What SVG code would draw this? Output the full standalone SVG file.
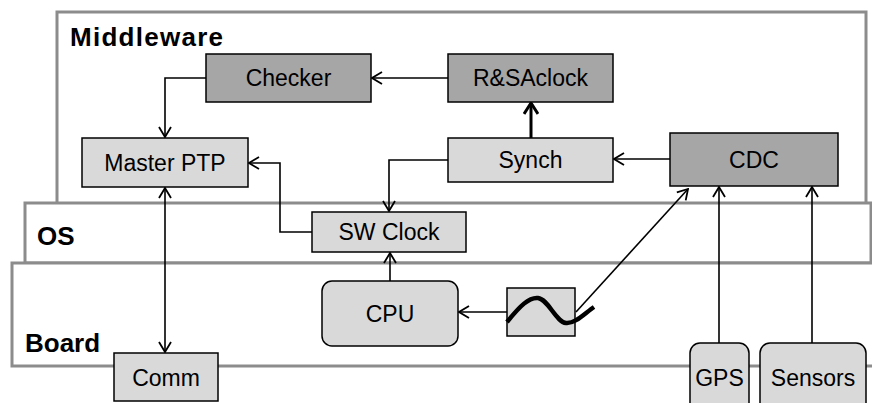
<svg xmlns="http://www.w3.org/2000/svg" width="872" height="403" viewBox="0 0 872 403">
<defs>
<style>
.frame{fill:#fff;stroke:#8c8c8c;stroke-width:3}
.light{fill:#d9d9d9;stroke:#000;stroke-width:1.5}
.dark{fill:#a6a6a6;stroke:#000;stroke-width:1.5}
.t{font-family:"Liberation Sans",Arial,sans-serif;font-size:23px;fill:#000;text-anchor:middle}
.lbl{font-family:"Liberation Sans",Arial,sans-serif;font-size:26px;font-weight:bold;fill:#000}
.c{fill:none;stroke:#000;stroke-width:1.6}
</style>
<marker id="ah" markerWidth="12" markerHeight="14" refX="11" refY="7" orient="auto-start-reverse" markerUnits="userSpaceOnUse">
<path d="M1,1 L11,7 L1,13" fill="none" stroke="#000" stroke-width="1.8"/>
</marker>
<marker id="ahb" markerWidth="14" markerHeight="16" refX="12" refY="8" orient="auto" markerUnits="userSpaceOnUse">
<path d="M1,1 L12,8 L1,15" fill="none" stroke="#000" stroke-width="3"/>
</marker>
</defs>
<g id="layers">
<rect class="frame" x="57" y="12" width="809" height="200"/>
<rect class="frame" x="25" y="203" width="846" height="60"/>
<rect class="frame" x="12" y="263" width="875" height="103"/>
<text class="lbl" x="70" y="46" textLength="153" lengthAdjust="spacing">Middleware</text>
<text class="lbl" x="37" y="245">OS</text>
<text class="lbl" x="25" y="352">Board</text>
</g>
<g id="connectors">
<path class="c" d="M448,78 H372" marker-end="url(#ah)"/>
<path class="c" d="M206,78 H165 V137" marker-end="url(#ah)"/>
<path class="c" d="M448,160 H389 V211" marker-end="url(#ah)"/>
<path class="c" d="M670,159 H614" marker-end="url(#ah)"/>
<path class="c" d="M531,138 V103" style="stroke-width:3" marker-end="url(#ahb)"/>
<path class="c" d="M312,232 H280 V163 H249" marker-end="url(#ah)"/>
<path class="c" d="M165,188 V352" marker-start="url(#ah)" marker-end="url(#ah)"/>
<path class="c" d="M390,281 V253" marker-end="url(#ah)"/>
<path class="c" d="M507,312 H459" marker-end="url(#ah)"/>
<path class="c" d="M576,312 L688,189" marker-end="url(#ah)"/>
<path class="c" d="M719,343 V187" marker-end="url(#ah)"/>
<path class="c" d="M812,343 V187" marker-end="url(#ah)"/>
</g>
<g id="checker"><rect class="dark" x="206" y="54" width="165" height="48"/><text class="t" x="288.5" y="86">Checker</text></g>
<g id="rsaclock"><rect class="dark" x="448" y="54" width="165" height="48"/><text class="t" x="530.5" y="86">R&amp;SAclock</text></g>
<g id="masterptp"><rect class="light" x="82" y="138" width="166" height="49"/><text class="t" x="165" y="171">Master PTP</text></g>
<g id="synch"><rect class="light" x="448" y="138" width="165" height="44"/><text class="t" x="530.5" y="168">Synch</text></g>
<g id="cdc"><rect class="dark" x="670" y="133" width="168" height="53"/><text class="t" x="754" y="168">CDC</text></g>
<g id="swclock"><rect class="light" x="312" y="212" width="154" height="40"/><text class="t" x="389" y="240">SW Clock</text></g>
<g id="cpu"><rect class="light" x="322" y="281" width="136" height="65" rx="10"/><text class="t" x="390" y="322">CPU</text></g>
<g id="oscillator"><rect class="light" x="507" y="288" width="68" height="48"/>
<path d="M507,322 C520,306 529,297 538,298 C548,299 556,322 566,323 C575,324 585,313 594,307" fill="none" stroke="#000" stroke-width="4.5"/></g>
<g id="comm"><rect class="light" x="114" y="353" width="104" height="48"/><text class="t" x="166" y="386">Comm</text></g>
<g id="gps"><rect class="light" x="690" y="343" width="59" height="70" rx="10"/><text class="t" x="719.5" y="386">GPS</text></g>
<g id="sensors"><rect class="light" x="760" y="343" width="106" height="70" rx="10"/><text class="t" x="813" y="386">Sensors</text></g>
</svg>
